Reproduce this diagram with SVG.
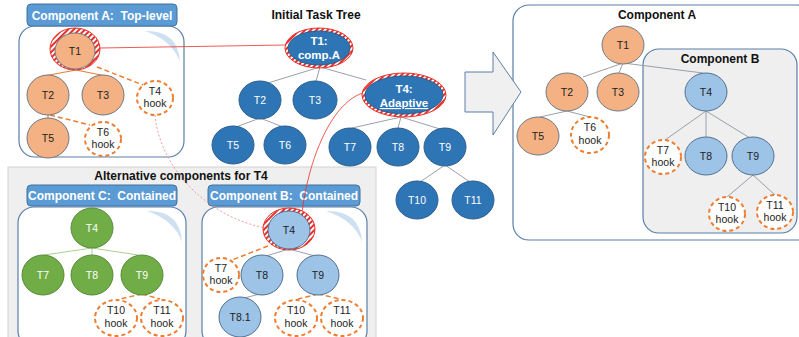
<svg xmlns="http://www.w3.org/2000/svg" width="799" height="337" viewBox="0 0 799 337">
<defs>
<pattern id="hatch" patternUnits="userSpaceOnUse" width="4" height="4" patternTransform="rotate(45)">
<rect width="4" height="4" fill="#ffffff"/><rect width="2" height="4" fill="#e8302a"/>
</pattern>
<style>
text{font-family:"Liberation Sans",Arial,sans-serif;text-anchor:middle}
.hdr{fill:#5b9bd5;stroke:#41719c;stroke-width:1}
.hdrt{fill:#fff;font-weight:bold;font-size:12px}
.cont{fill:#fff;stroke:#5a7fa8;stroke-width:1.2}
.cres{fill:#cfe0f1}
.or{fill:#f4b183;stroke:#6f7a86;stroke-width:1}
.db{fill:#2e75b6;stroke:#2b5e8e;stroke-width:1}
.lb{fill:#9dc3e6;stroke:#54708f;stroke-width:1}
.gr{fill:#70ad47;stroke:#5a8a3a;stroke-width:1}
.hk{fill:#fff;stroke:#ed7d31;stroke-width:2;stroke-dasharray:4 3}
.ring{fill:url(#hatch);stroke:#e8302a;stroke-width:1}
.t{font-size:10.5px;fill:#222}
.tw{font-size:10.5px;fill:#fff}
.ttl{font-weight:bold;font-size:12px;fill:#111}
.eg{stroke:#9aa0a8;stroke-width:1;fill:none}
.eo{stroke:#ed7d31;stroke-width:1.2;fill:none}
.eod{stroke:#ed7d31;stroke-width:1.5;fill:none;stroke-dasharray:5 3}
.egn{stroke:#a9d18e;stroke-width:1;fill:none}
</style>
</defs>

<!-- Backgrounds -->
<g id="alt-region">
<rect x="8" y="167" width="368" height="175" fill="#efefef" stroke="#d2d2d2"/>
<text class="ttl" x="181" y="180">Alternative components for T4</text>
</g>

<g id="compA-left">
<rect class="cont" x="19" y="26" width="165" height="131" rx="16"/>
<path class="cres" d="M145 31 Q178 30 180 62 Q172 40 145 31 Z"/>
<rect class="hdr" x="27" y="4" width="150" height="22" rx="4"/>
<text class="hdrt" x="102" y="19.5">Component A:&#160; Top-level</text>
</g>

<g id="compC">
<rect class="cont" x="18" y="207" width="168" height="140" rx="16"/>
<path class="cres" d="M147 211 Q180 210 182 242 Q174 220 147 211 Z"/>
<rect class="hdr" x="27" y="185" width="150" height="21" rx="4"/>
<text class="hdrt" x="102" y="200">Component C:&#160; Contained</text>
</g>

<g id="compB">
<rect class="cont" x="202" y="207" width="165" height="140" rx="16"/>
<path class="cres" d="M326 211 Q360 210 362 242 Q354 220 326 211 Z"/>
<rect class="hdr" x="208" y="185" width="152" height="21" rx="4"/>
<text class="hdrt" x="284" y="200">Component B:&#160; Contained</text>
</g>

<g id="compA-right">
<rect x="513" y="5" width="300" height="235" rx="16" fill="#fff" stroke="#5a7fa8" stroke-width="1.2"/>
<text class="ttl" x="657" y="19">Component A</text>
</g>
<g id="compB-right">
<rect x="643" y="49" width="154" height="184" rx="16" fill="#efefef" stroke="#5a7fa8" stroke-width="1.2"/>
<text class="ttl" x="720" y="63">Component B</text>
</g>

<g id="title-initial"><text class="ttl" x="316" y="19">Initial Task Tree</text></g>

<g id="big-arrow">
<path d="M465 72 L493 72 L493 52 L521 92 L493 135 L493 112 L465 112 Z" fill="#f0f0f0" stroke="#5a7fa8" stroke-width="1"/>
</g>

<!-- Connectors -->
<g id="connectors">
<line class="eo" x1="76" y1="70" x2="44" y2="76"/>
<line class="eo" x1="76" y1="70" x2="106" y2="76"/>
<line class="eod" x1="97" y1="67" x2="143" y2="85"/>
<line class="eo" x1="48" y1="114" x2="48" y2="120"/>
<line class="eod" x1="50" y1="115" x2="90" y2="125"/>
<line class="eg" x1="320" y1="67" x2="268" y2="83"/>
<line class="eg" x1="320" y1="67" x2="316" y2="81"/>
<line class="eg" x1="320" y1="67" x2="366" y2="80"/>
<line class="eg" x1="260" y1="118" x2="236" y2="127"/>
<line class="eg" x1="260" y1="118" x2="283" y2="127"/>
<line class="eg" x1="401" y1="117" x2="352" y2="128"/>
<line class="eg" x1="401" y1="117" x2="398" y2="128"/>
<line class="eg" x1="401" y1="117" x2="440" y2="129"/>
<line class="eg" x1="445" y1="165" x2="420" y2="182"/>
<line class="eg" x1="445" y1="165" x2="470" y2="182"/>
<line class="egn" x1="92" y1="248" x2="44" y2="255"/>
<line class="egn" x1="92" y1="248" x2="92" y2="255"/>
<line class="egn" x1="92" y1="248" x2="138" y2="255"/>
<line class="eod" x1="142" y1="294" x2="120" y2="299"/>
<line class="eod" x1="142" y1="294" x2="160" y2="299"/>
<line class="eg" x1="289" y1="249" x2="266" y2="256"/>
<line class="eg" x1="289" y1="249" x2="315" y2="256"/>
<line class="eod" x1="268" y1="246" x2="232" y2="260"/>
<line class="eg" x1="260" y1="294" x2="244" y2="298"/>
<line class="eod" x1="318" y1="294" x2="298" y2="299"/>
<line class="eod" x1="318" y1="294" x2="340" y2="299"/>
<line class="eg" x1="623" y1="63" x2="583" y2="77"/>
<line class="eg" x1="623" y1="63" x2="619" y2="73"/>
<line class="eg" x1="623" y1="63" x2="703" y2="73"/>
<line class="eg" x1="567" y1="111" x2="540" y2="117"/>
<line class="eg" x1="567" y1="111" x2="590" y2="117"/>
<line class="eg" x1="706" y1="111" x2="665" y2="140"/>
<line class="eg" x1="706" y1="111" x2="706" y2="137"/>
<line class="eg" x1="706" y1="111" x2="750" y2="138"/>
<line class="eg" x1="753" y1="175" x2="727" y2="197"/>
<line class="eg" x1="753" y1="175" x2="775" y2="195"/>
<line x1="100" y1="48" x2="285" y2="45" stroke="#e8302a" stroke-width="0.8"/>
<path d="M363 93 C330 103 306 165 301 222" fill="none" stroke="#e8302a" stroke-width="0.8"/>
<path d="M155 115 C160 170 210 218 266 228" fill="none" stroke="#f08080" stroke-width="0.8" stroke-dasharray="2 2"/>
</g>

<g id="lA-T1"><ellipse class="ring" cx="75" cy="49" rx="25" ry="21"/><ellipse class="or" cx="75" cy="51" rx="20" ry="18"/><text class="t" x="75" y="55">T1</text></g>
<g id="lA-T2"><ellipse class="or" cx="48" cy="95" rx="21" ry="20"/><text class="t" x="48" y="99">T2</text></g>
<g id="lA-T3"><ellipse class="or" cx="103" cy="95" rx="21" ry="20"/><text class="t" x="103" y="99">T3</text></g>
<g id="lA-T4hook"><ellipse class="hk" cx="155" cy="98" rx="18" ry="17"/><text class="t" x="155" y="95">T4</text><text class="t" x="155" y="107">hook</text></g>
<g id="lA-T5"><ellipse class="or" cx="48" cy="138" rx="21" ry="20"/><text class="t" x="48" y="142">T5</text></g>
<g id="lA-T6hook"><ellipse class="hk" cx="103" cy="139" rx="18" ry="17"/><text class="t" x="103" y="136">T6</text><text class="t" x="103" y="148">hook</text></g>

<g id="it-T1"><ellipse class="ring" cx="319" cy="48" rx="34" ry="20"/><ellipse class="db" cx="319" cy="48" rx="31" ry="17"/><text class="tw" x="319" y="45" style="font-weight:bold;font-size:11.5px">T1:</text><text class="tw" x="319" y="59" style="font-weight:bold;font-size:11.5px">comp.A</text></g>
<g id="it-T4"><ellipse class="ring" cx="404" cy="95" rx="42" ry="22"/><ellipse class="db" cx="404" cy="95" rx="39" ry="19"/><text class="tw" x="404" y="93" style="font-weight:bold;font-size:11.5px">T4:</text><text class="tw" x="404" y="107" style="font-weight:bold;font-size:11.5px;text-decoration:underline">Adaptive</text></g>
<g id="it-T2"><ellipse class="db" cx="260" cy="100" rx="21" ry="19"/><text class="tw" x="260" y="104">T2</text></g>
<g id="it-T3"><ellipse class="db" cx="315" cy="100" rx="22" ry="19"/><text class="tw" x="315" y="104">T3</text></g>
<g id="it-T5"><ellipse class="db" cx="233" cy="145" rx="21" ry="19"/><text class="tw" x="233" y="149">T5</text></g>
<g id="it-T6"><ellipse class="db" cx="285" cy="145" rx="21" ry="19"/><text class="tw" x="285" y="149">T6</text></g>
<g id="it-T7"><ellipse class="db" cx="350" cy="147" rx="21" ry="19"/><text class="tw" x="350" y="151">T7</text></g>
<g id="it-T8"><ellipse class="db" cx="398" cy="147" rx="21" ry="19"/><text class="tw" x="398" y="151">T8</text></g>
<g id="it-T9"><ellipse class="db" cx="445" cy="147" rx="21" ry="19"/><text class="tw" x="445" y="151">T9</text></g>
<g id="it-T10"><ellipse class="db" cx="417" cy="200" rx="21" ry="19"/><text class="tw" x="417" y="204">T10</text></g>
<g id="it-T11"><ellipse class="db" cx="473" cy="200" rx="21" ry="19"/><text class="tw" x="473" y="204">T11</text></g>

<g id="c-T4"><ellipse class="gr" cx="92" cy="228" rx="21" ry="20"/><text class="tw" x="92" y="232">T4</text></g>
<g id="c-T7"><ellipse class="gr" cx="43" cy="275" rx="21" ry="20"/><text class="tw" x="43" y="279">T7</text></g>
<g id="c-T8"><ellipse class="gr" cx="92" cy="275" rx="21" ry="20"/><text class="tw" x="92" y="279">T8</text></g>
<g id="c-T9"><ellipse class="gr" cx="142" cy="275" rx="21" ry="20"/><text class="tw" x="142" y="279">T9</text></g>
<g id="c-T10hook"><ellipse class="hk" cx="116" cy="318" rx="21" ry="18"/><text class="t" x="116" y="314">T10</text><text class="t" x="116" y="327">hook</text></g>
<g id="c-T11hook"><ellipse class="hk" cx="162" cy="318" rx="21" ry="18"/><text class="t" x="162" y="314">T11</text><text class="t" x="162" y="327">hook</text></g>

<g id="b-T4"><ellipse class="ring" cx="289" cy="229" rx="26" ry="21"/><ellipse class="lb" cx="289" cy="230" rx="21" ry="19"/><text class="t" x="289" y="234">T4</text></g>
<g id="b-T7hook"><ellipse class="hk" cx="221" cy="275" rx="18" ry="17"/><text class="t" x="221" y="272">T7</text><text class="t" x="221" y="284">hook</text></g>
<g id="b-T8"><ellipse class="lb" cx="262" cy="275" rx="21" ry="20"/><text class="t" x="262" y="279">T8</text></g>
<g id="b-T9"><ellipse class="lb" cx="318" cy="275" rx="21" ry="20"/><text class="t" x="318" y="279">T9</text></g>
<g id="b-T81"><ellipse class="lb" cx="240" cy="317" rx="21" ry="20"/><text class="t" x="240" y="321">T8.1</text></g>
<g id="b-T10hook"><ellipse class="hk" cx="296" cy="318" rx="21" ry="18"/><text class="t" x="296" y="314">T10</text><text class="t" x="296" y="327">hook</text></g>
<g id="b-T11hook"><ellipse class="hk" cx="342" cy="318" rx="21" ry="18"/><text class="t" x="342" y="314">T11</text><text class="t" x="342" y="327">hook</text></g>

<g id="r-T1"><ellipse class="or" cx="623" cy="45" rx="21" ry="19"/><text class="t" x="623" y="49">T1</text></g>
<g id="r-T2"><ellipse class="or" cx="567" cy="92" rx="21" ry="19"/><text class="t" x="567" y="96">T2</text></g>
<g id="r-T3"><ellipse class="or" cx="618" cy="92" rx="21" ry="19"/><text class="t" x="618" y="96">T3</text></g>
<g id="r-T5"><ellipse class="or" cx="538" cy="136" rx="21" ry="19"/><text class="t" x="538" y="140">T5</text></g>
<g id="r-T6hook"><ellipse class="hk" cx="590" cy="135" rx="19" ry="18"/><text class="t" x="590" y="131">T6</text><text class="t" x="590" y="144">hook</text></g>
<g id="r-T4"><ellipse class="lb" cx="706" cy="92" rx="21" ry="19"/><text class="t" x="706" y="96">T4</text></g>
<g id="r-T7hook"><ellipse class="hk" cx="663" cy="157" rx="18" ry="17"/><text class="t" x="663" y="154">T7</text><text class="t" x="663" y="166">hook</text></g>
<g id="r-T8"><ellipse class="lb" cx="706" cy="156" rx="21" ry="19"/><text class="t" x="706" y="160">T8</text></g>
<g id="r-T9"><ellipse class="lb" cx="753" cy="156" rx="21" ry="19"/><text class="t" x="753" y="160">T9</text></g>
<g id="r-T10hook"><ellipse class="hk" cx="727" cy="214" rx="18" ry="17"/><text class="t" x="727" y="211">T10</text><text class="t" x="727" y="223">hook</text></g>
<g id="r-T11hook"><ellipse class="hk" cx="775" cy="212" rx="18" ry="17"/><text class="t" x="775" y="209">T11</text><text class="t" x="775" y="221">hook</text></g>
</svg>
